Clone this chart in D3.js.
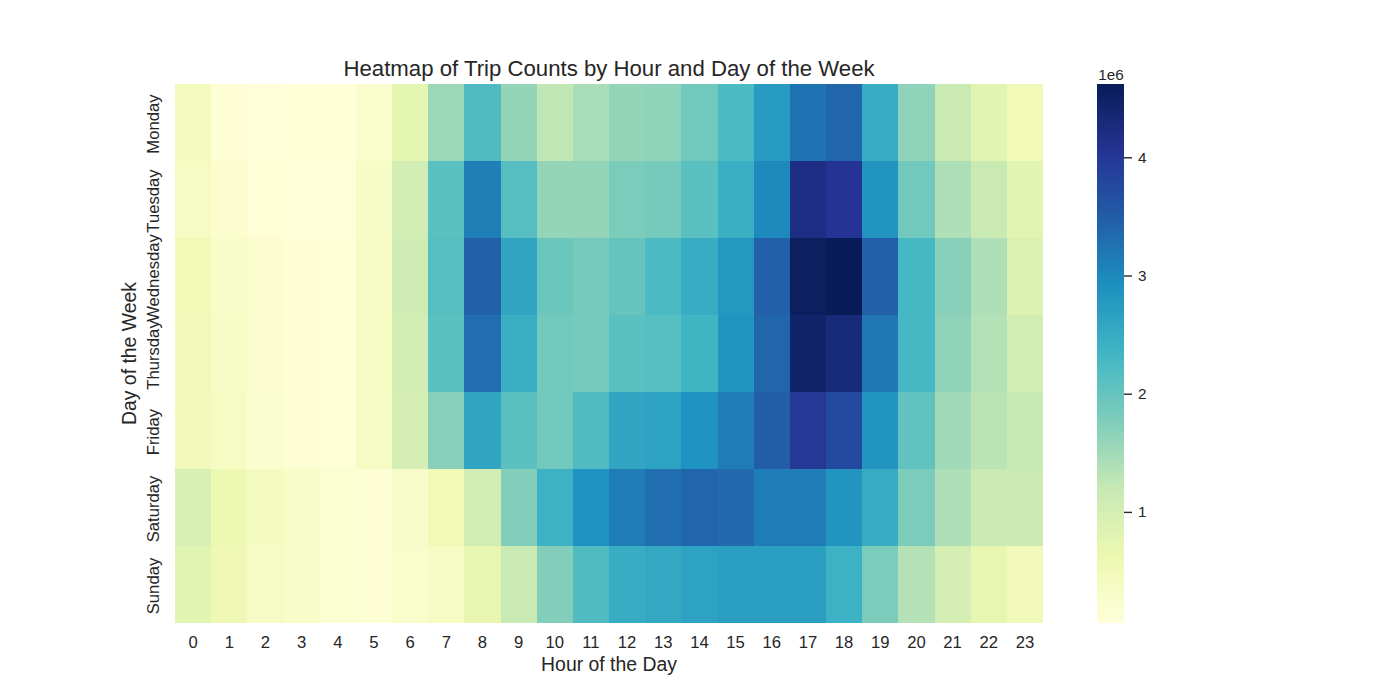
<!DOCTYPE html>
<html><head><meta charset="utf-8">
<script src="https://cdn.jsdelivr.net/npm/d3@7"></script>
<style>html,body{margin:0;padding:0;background:#fff}svg{display:block}text{font-family:"Liberation Sans",Arial,sans-serif;fill:#262626}</style>
</head><body><svg id="c" width="1400" height="700"></svg>
<script>
const hours = d3.range(24);
const days = ["Monday","Tuesday","Wednesday","Thursday","Friday","Saturday","Sunday"];
const monday =    [.45,.12,.08,.07,.07,.25,.75,1.55,2.2,1.6,1.25,1.45,1.6,1.65,1.9,2.25,2.75,3.25,3.4,2.5,1.65,1.15,.8,.55];
const tuesday =   [.38,.2,.1,.08,.08,.32,1.05,2.1,3.1,2.15,1.6,1.6,1.8,1.85,2.1,2.45,3.0,4.2,4.05,2.85,1.9,1.4,1.15,.8];
const wednesday = [.55,.3,.2,.12,.1,.38,1.1,2.15,3.45,2.6,1.95,1.85,2.0,2.25,2.5,2.8,3.45,4.55,4.62,3.45,2.3,1.7,1.4,.9];
const thursday =  [.52,.32,.2,.12,.1,.38,1.05,2.1,3.3,2.45,1.9,1.85,2.1,2.15,2.35,2.85,3.4,4.45,4.3,3.2,2.3,1.65,1.35,1.05];
const friday =    [.5,.38,.22,.12,.1,.38,1.0,1.7,2.6,2.1,1.9,2.2,2.6,2.65,2.9,3.15,3.5,4.0,3.75,2.85,2.05,1.5,1.3,1.2];
const saturday =  [.95,.62,.42,.3,.18,.12,.3,.55,1.05,1.75,2.4,2.9,3.15,3.3,3.4,3.35,3.15,3.15,2.85,2.5,1.8,1.4,1.15,1.15];
const sunday =    [.8,.58,.35,.3,.18,.13,.25,.38,.7,1.15,1.75,2.2,2.5,2.55,2.65,2.7,2.7,2.7,2.4,1.8,1.35,1.0,.72,.52];
const matrix = [monday,tuesday,wednesday,thursday,friday,saturday,sunday];
const ylgnbu = ["#ffffd9","#edf8b1","#c7e9b4","#7fcdbb","#41b6c4","#1d91c0","#225ea8","#253494","#081d58"];
const cbTicks = [1,2,3,4];
const vMin = 0.06, vMax = 4.62;

const svg = d3.select("#c");
const L=175,R=1043,T=84,B=623,CL=1097,CR=1124;
const x = d3.scaleBand().domain(hours).range([L,R]);
const y = d3.scaleBand().domain(days).range([T,B]);
const color = d3.scaleLinear().domain(ylgnbu.map((_,i)=>vMin+(vMax-vMin)*i/8)).range(ylgnbu).clamp(true);

const xEdge = i => i < hours.length ? Math.round(x(hours[i])) : R;
const yEdge = i => i < days.length ? Math.round(y(days[i])) : B;
const cells = matrix.flatMap((r,i)=>r.map((v,h)=>({row:i,h,v})));
svg.append("g").attr("shape-rendering","crispEdges").selectAll("rect").data(cells).join("rect")
  .attr("x",d=>xEdge(d.h)).attr("y",d=>yEdge(d.row))
  .attr("width",d=>xEdge(d.h+1)-xEdge(d.h))
  .attr("height",d=>yEdge(d.row+1)-yEdge(d.row))
  .attr("fill",d=>color(d.v));

const xAxis = svg.append("g").attr("transform",`translate(0,${B})`).call(d3.axisBottom(x).tickSize(0));
xAxis.select(".domain").remove();
xAxis.selectAll("text").attr("font-size",16.67).attr("dy",0).attr("y",25);

const yAxis = svg.append("g").attr("transform",`translate(${L},0)`).call(d3.axisLeft(y).tickSize(0));
yAxis.select(".domain").remove();
yAxis.selectAll("text").attr("font-size",16.67).attr("text-anchor","middle").attr("dy",0).attr("x",0).attr("y",0)
  .attr("transform","translate(-16,1.5) rotate(-90)");

svg.append("text").attr("x",609).attr("y",76).attr("text-anchor","middle").attr("font-size",22.2).text("Heatmap of Trip Counts by Hour and Day of the Week");
svg.append("text").attr("x",609).attr("y",671).attr("text-anchor","middle").attr("font-size",19.4).text("Hour of the Day");
svg.append("text").attr("transform","translate(136,353.5) rotate(-90)").attr("text-anchor","middle").attr("font-size",19.4).text("Day of the Week");

const cy = d3.scaleLinear().domain([vMin,vMax]).range([B,T]);
const steps = d3.range(256).map(i=>vMin+(vMax-vMin)*(i+.5)/256);
const sh = (B-T)/256;
svg.append("g").attr("shape-rendering","crispEdges").selectAll("rect").data(steps).join("rect")
  .attr("x",CL).attr("width",CR-CL).attr("y",d=>cy(d)-sh/2-.3).attr("height",sh+.6).attr("fill",d=>color(d));
const cAxis = svg.append("g").attr("transform",`translate(${CR},0)`).call(d3.axisRight(cy).tickValues(cbTicks).tickFormat(d3.format("d")).tickSize(8).tickPadding(6));
cAxis.select(".domain").remove();
cAxis.selectAll("line").attr("stroke","#262626").attr("stroke-width",1.4);
cAxis.selectAll("text").attr("font-size",15.3);
svg.append("text").attr("x",1111).attr("y",80).attr("text-anchor","middle").attr("font-size",15.3).text("1e6");
</script></body></html>
